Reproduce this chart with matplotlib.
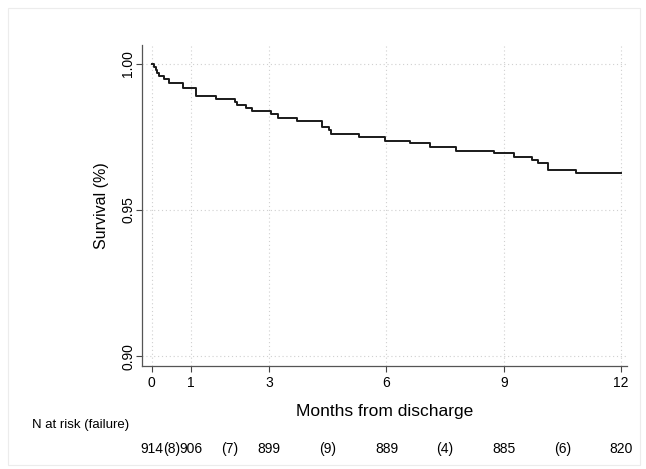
import matplotlib
matplotlib.use('Agg')
import matplotlib.pyplot as plt
import matplotlib.transforms as mtransforms
from matplotlib.patches import Rectangle

plt.rcParams['font.family'] = ['Liberation Sans', 'DejaVu Sans']

# Kaplan-Meier step curve (months, survival)
step_times = [0.00, 0.06, 0.10, 0.13, 0.19, 0.30, 0.45, 0.79, 1.13, 1.64,
              2.13, 2.19, 2.40, 2.56, 3.05, 3.22, 3.71, 4.36, 4.52, 4.58,
              5.31, 5.97, 6.59, 7.12, 7.78, 8.76, 9.25, 9.72, 9.87, 10.14,
              10.85, 12.00]
step_surv = [1.0000, 0.99897, 0.99795, 0.99692, 0.99589, 0.99476, 0.99360,
             0.99161, 0.98904, 0.98801, 0.98699, 0.98596, 0.98483, 0.98390,
             0.98288, 0.98161, 0.98048, 0.97842, 0.97729, 0.97586, 0.97490,
             0.97380, 0.97284, 0.97158, 0.97031, 0.96942, 0.96825, 0.96719,
             0.96627, 0.96377, 0.96277, 0.96277]

x_ticks = [0, 1, 3, 6, 9, 12]
y_ticks = [0.90, 0.95, 1.00]
y_tick_labels = ['0.90', '0.95', '1.00']

# number at risk and failures in each interval
risk_times = [0, 1, 3, 6, 9, 12]
n_risk = [914, 906, 899, 889, 885, 820]
fail_times = [0.5, 2, 4.5, 7.5, 10.5]
n_fail = [8, 7, 9, 4, 6]

fig = plt.figure(figsize=(6.46, 4.69), dpi=100)

# faint outline of the graph region
fig.patches.append(Rectangle((8 / 646, 4 / 469), 632 / 646, 457 / 469,
                             transform=fig.transFigure, fill=False,
                             edgecolor='#ececec', lw=0.8))

ax = fig.add_axes([142 / 646, 103 / 469, 485 / 646, 321 / 469])

ax.plot(step_times, step_surv, drawstyle='steps-post', color='#1a1a1a', lw=1.4)

ax.set_xlim(-0.25, 12.15)
ax.set_ylim(0.8966, 1.0065)
ax.set_xticks(x_ticks)
ax.set_yticks(y_ticks)
ax.set_yticklabels(y_tick_labels, rotation=90, va='center')
ax.tick_params(axis='both', labelsize=10, length=4, width=0.8, color='#444444')
ax.tick_params(axis='x', pad=3)
ax.tick_params(axis='y', pad=1)
ax.grid(True, linestyle=(0, (1, 2.5)), color='#d0d0d0', lw=0.8)

for s in ['top', 'right']:
    ax.spines[s].set_visible(False)
for s in ['left', 'bottom']:
    ax.spines[s].set_color('#555555')
    ax.spines[s].set_linewidth(0.9)

ax.set_xlabel('Months from discharge', fontsize=12.5, labelpad=10)
ax.set_ylabel('Survival (%)', fontsize=11.5, labelpad=9)

# risk table under the axis
trans = mtransforms.blended_transform_factory(ax.transData, fig.transFigure)
fig.text(32 / 646, 1 - 425 / 469, 'N at risk (failure)', fontsize=9.5,
         ha='left', va='center')
row_y = 1 - 449 / 469
for t, n in zip(risk_times, n_risk):
    ax.text(t, row_y, str(n), transform=trans, fontsize=10,
            ha='center', va='center', clip_on=False)
for t, f in zip(fail_times, n_fail):
    ax.text(t, row_y, '(%d)' % f, transform=trans, fontsize=10,
            ha='center', va='center', clip_on=False)

fig.savefig('out.png', dpi=100)
